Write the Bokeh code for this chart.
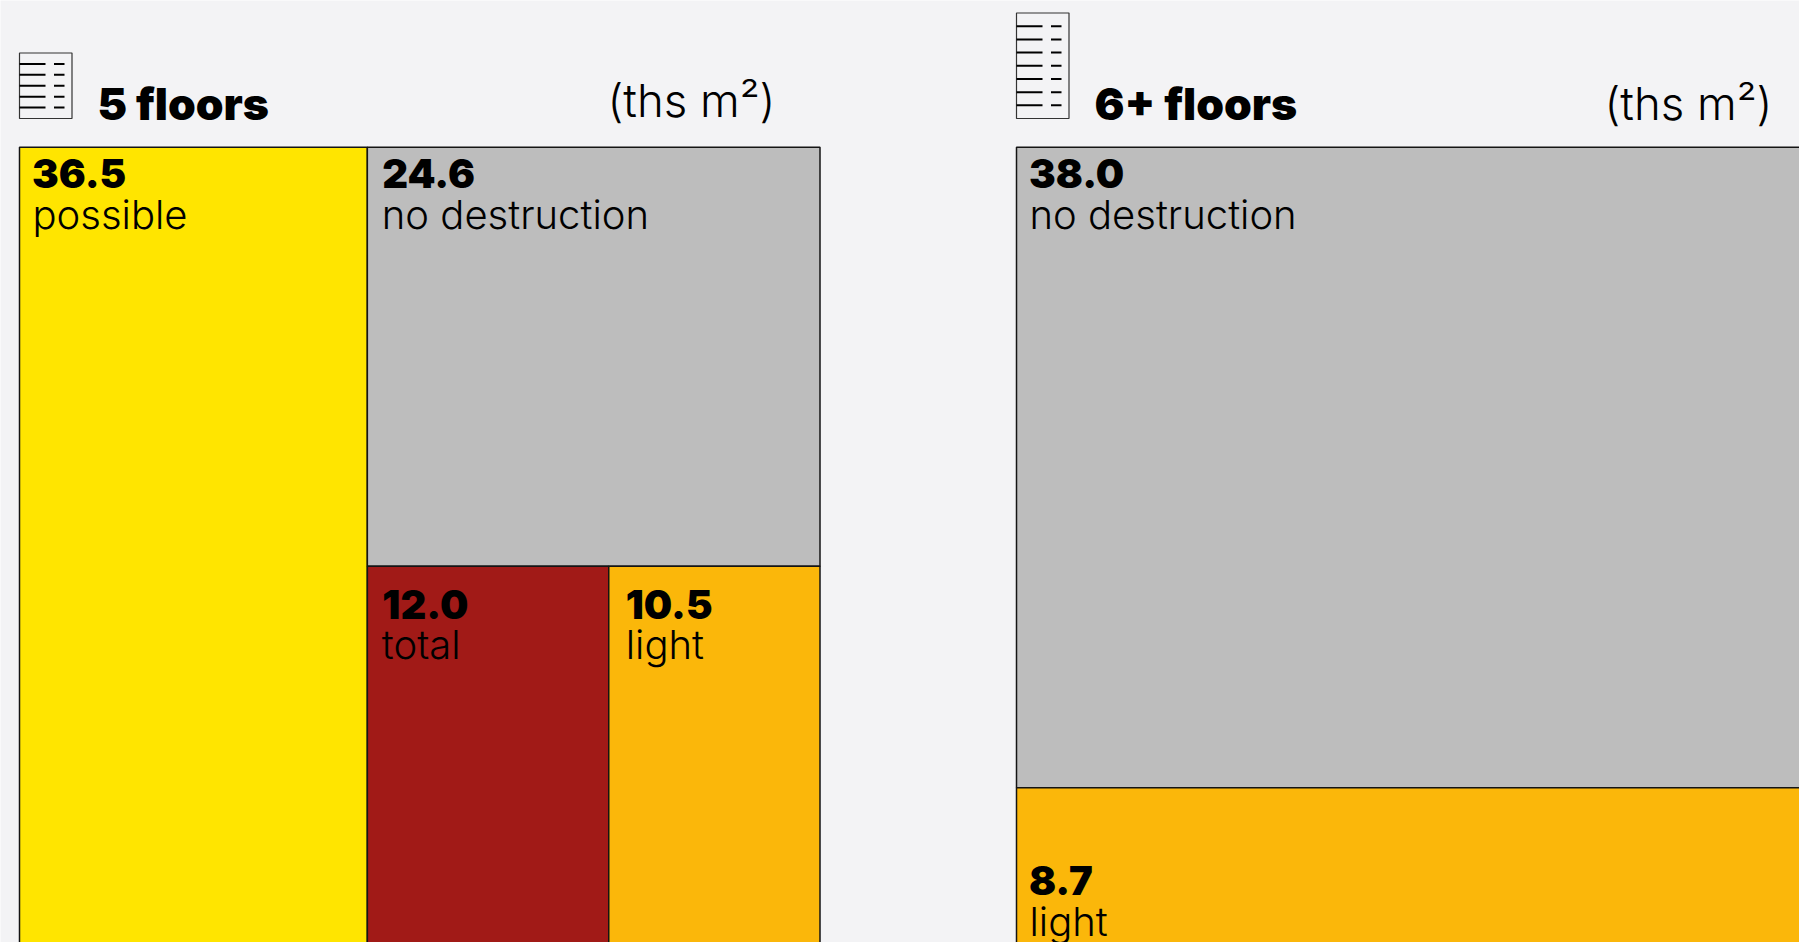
from bokeh.plotting import figure
from bokeh.core.properties import value
from bokeh.embed import file_html
from bokeh.resources import INLINE

# Floor-space figures in thousands of square metres
five_values = [36.5, 24.6, 12.0, 10.5]
five_names = ["possible", "no destruction", "total", "light"]
five_total = 84.0  # includes minor categories below the fold
six_values = [38.0, 8.7]
six_names = ["no destruction", "light"]
six_total = 48.0

colours = {"possible": "#FFE500", "no destruction": "#BDBDBD",
           "total": "#A11A17", "light": "#FBB70A"}

titles = ["5 floors", "6+ floors"]
unit_label = "(ths m²)"
icon_floors = [5, 7]

# Page layout, in pixels
WIDTH, HEIGHT = 1799, 942
PANEL_W, PANEL_H = 800.5, 809.0
LEFT_A, LEFT_B, TOP = 19.0, 1016.0, 146.7
PAPER, INK = "#F3F3F5", "#141414"
NUM_FONT, TXT_FONT = value("Inter Black"), value("Inter Light")
NUM_SIZE, TXT_SIZE, TITLE_SIZE, UNIT_SIZE = 40, 40, 44.5, 45.5
BASELINE_SHIFT = 0.4  # the svg text baseline sits this fraction of the size below y

p = figure(width=WIDTH, height=HEIGHT, x_range=(0, WIDTH), y_range=(HEIGHT, 0),
           output_backend="svg", toolbar_location=None, min_border=0,
           background_fill_color=PAPER, border_fill_color=PAPER, outline_line_color=None)
p.axis.visible = False
p.grid.visible = False


def label(x, y, text, font, size):
    p.text(x=[x], y=[y - BASELINE_SHIFT * size], text=[text], text_font=font,
           text_font_size=f"{size}px", text_color="#000000", text_baseline="alphabetic")


def cell(x0, y0, x1, y1, name):
    p.quad(left=x0, right=x1, top=y0, bottom=y1, fill_color=colours[name],
           line_color=INK, line_width=1.5)


def caption(x, y, number, name, pad_num, pad_txt):
    label(x + pad_num, y + 1, f"{number:.1f}", NUM_FONT, NUM_SIZE)
    label(x + pad_txt, y + 41.5, name, TXT_FONT, TXT_SIZE)


# Five-floor treemap: one column on the left, stacked rows on the right
col = PANEL_W * five_values[0] / five_total
right = five_total - five_values[0]
row = PANEL_H * five_values[1] / right
split = (PANEL_W - col) * five_values[2] / (five_values[2] + five_values[3])
x_col = LEFT_A + col
y_row = TOP + row
cell(LEFT_A, TOP, x_col, TOP + PANEL_H, five_names[0])
cell(x_col, TOP, LEFT_A + PANEL_W, y_row, five_names[1])
cell(x_col, y_row, x_col + split, TOP + PANEL_H, five_names[2])
cell(x_col + split, y_row, LEFT_A + PANEL_W, TOP + PANEL_H, five_names[3])
caption(LEFT_A, TOP + 41.5, five_values[0], five_names[0], 12.5, 13)
caption(x_col, TOP + 41.5, five_values[1], five_names[1], 15, 14.5)
caption(x_col, y_row + 53.3, five_values[2], five_names[2], 15, 14.5)
caption(x_col + split, y_row + 53.3, five_values[3], five_names[3], 17, 17)

# Six-floor treemap: the largest row on top, the next one under it
row6 = PANEL_H * six_values[0] / six_total
cell(LEFT_B, TOP, LEFT_B + PANEL_W, TOP + row6, six_names[0])
cell(LEFT_B, TOP + row6, LEFT_B + PANEL_W, TOP + PANEL_H, six_names[1])
caption(LEFT_B, TOP + 41.5, six_values[0], six_names[0], 12.5, 13)
caption(LEFT_B, TOP + row6 + 108.3, six_values[1], six_names[1], 12.5, 13)

# Panel headings
for x, title in zip((97, 1094), titles):
    label(x, 121, title, NUM_FONT, TITLE_SIZE)
for x, y in ((607, 118), (1604, 121)):
    label(x, y, unit_label, TXT_FONT, UNIT_SIZE)

# Small building icons: an outline with one pair of strokes per floor
for x, floors, height in zip((LEFT_A, LEFT_B), icon_floors, (65.5, 105.5)):
    y_top = 118 - height
    step = height / (floors + 1)
    p.quad(left=x, right=x + 52.5, top=y_top, bottom=118, fill_color=None,
           line_color="#333333", line_width=1.2)
    ys = [y_top + (i + 1) * step for i in range(floors)]
    p.segment(x0=[x] * floors, x1=[x + 26] * floors, y0=ys, y1=ys, line_color="#000000", line_width=2)
    p.segment(x0=[x + 34.5] * floors, x1=[x + 45] * floors, y0=ys, y1=ys, line_color="#000000", line_width=2)

open("out.html", "w").write(file_html(p, INLINE))
